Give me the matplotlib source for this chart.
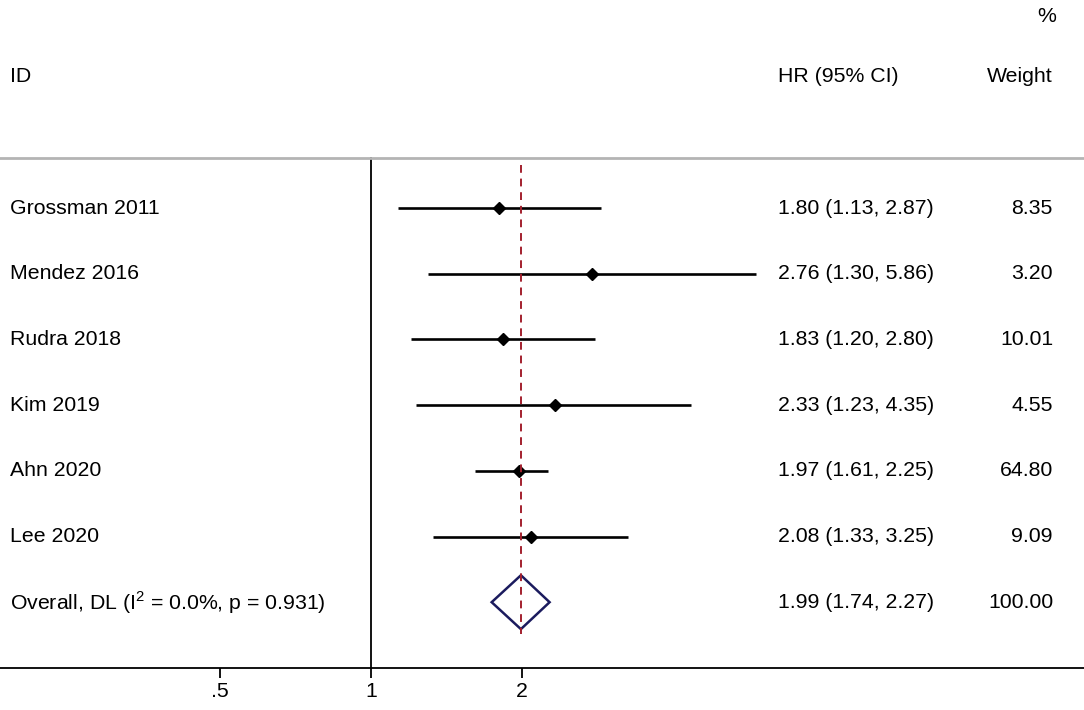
import numpy as np
import matplotlib.pyplot as plt

plt.rcParams['font.family'] = ['Liberation Sans', 'DejaVu Sans']
plt.rcParams['mathtext.fontset'] = 'custom'
plt.rcParams['mathtext.rm'] = 'Liberation Sans'

# study data
studies = ['Grossman 2011', 'Mendez 2016', 'Rudra 2018', 'Kim 2019', 'Ahn 2020', 'Lee 2020']
hr = [1.80, 2.76, 1.83, 2.33, 1.97, 2.08]
lo = [1.13, 1.30, 1.20, 1.23, 1.61, 1.33]
hi = [2.87, 5.86, 2.80, 4.35, 2.25, 3.25]
weights = ['8.35', '3.20', '10.01', '4.55', '64.80', '9.09']

overall_label = r'Overall, DL (I$^{2}$ = 0.0%, p = 0.931)'
overall_hr, overall_lo, overall_hi = 1.99, 1.74, 2.27
overall_weight = '100.00'

xticks = [0.5, 1, 2]
xticklabels = ['.5', '1', '2']

fig = plt.figure(figsize=(10.84, 7.10), dpi=100)
ax = fig.add_axes([0, 0, 1, 1])
ax.set_xscale('log', base=2)
# ~151 px per doubling, HR=1 at x=371 px
ax.set_xlim(2 ** (-371 / 151), 2 ** ((1084 - 371) / 151))
ax.set_ylim(1 + 502 / 65.7, 1 - 208 / 65.7)

fs = 15.3
rows = np.arange(1, len(studies) + 1)
trans = ax.get_yaxis_transform()  # x in axes fraction, y in data

# CI lines and point estimates
for r, h, l, u in zip(rows, hr, lo, hi):
    ax.plot([l, u], [r, r], color='black', lw=1.9, solid_capstyle='butt')
    ax.plot(h, r, marker='D', color='black', ms=6)

# overall diamond
orow = len(studies) + 1
dh = 0.41
ax.fill([overall_lo, overall_hr, overall_hi, overall_hr, overall_lo],
        [orow, orow - dh, orow, orow + dh, orow],
        facecolor='none', edgecolor='#1b1b5e', lw=1.8)

# reference lines
ax.plot([overall_hr, overall_hr], [0.35, orow + 0.48], color='#a3202e', lw=1.4,
        dashes=(4, 3))
ax.plot([1, 1], [0.24, 8], color='black', lw=1.3)
ax.axhline(0.24, color='#b4b4b4', lw=2)

# bottom axis
for s in ['top', 'left', 'right']:
    ax.spines[s].set_visible(False)
ax.spines['bottom'].set_position(('data', 8))
ax.spines['bottom'].set_linewidth(1.3)
ax.set_xticks(xticks)
ax.set_xticklabels(xticklabels, fontsize=fs)
ax.minorticks_off()
ax.tick_params(axis='x', length=7, width=1.3, direction='out', pad=3)
ax.set_yticks([])

# headers
ax.text(10 / 1084, -1, 'ID', transform=trans, fontsize=fs, va='center')
ax.text(778 / 1084, -1, 'HR (95% CI)', transform=trans, fontsize=fs, va='center')
ax.text(1053 / 1084, -1, 'Weight', transform=trans, fontsize=fs, va='center', ha='right')
ax.text(1056 / 1084, -1.91, '%', transform=trans, fontsize=fs, va='center', ha='right')

# row text
for r, name, h, l, u, w in zip(rows, studies, hr, lo, hi, weights):
    ax.text(10 / 1084, r, name, transform=trans, fontsize=fs, va='center')
    ax.text(778 / 1084, r, f'{h:.2f} ({l:.2f}, {u:.2f})', transform=trans,
            fontsize=fs, va='center')
    ax.text(1053 / 1084, r, w, transform=trans, fontsize=fs, va='center', ha='right')

ax.text(10 / 1084, orow, overall_label, transform=trans, fontsize=fs, va='center')
ax.text(778 / 1084, orow, f'{overall_hr:.2f} ({overall_lo:.2f}, {overall_hi:.2f})',
        transform=trans, fontsize=fs, va='center')
ax.text(1053 / 1084, orow, overall_weight, transform=trans, fontsize=fs,
        va='center', ha='right')

fig.savefig('out.png', dpi=100)
